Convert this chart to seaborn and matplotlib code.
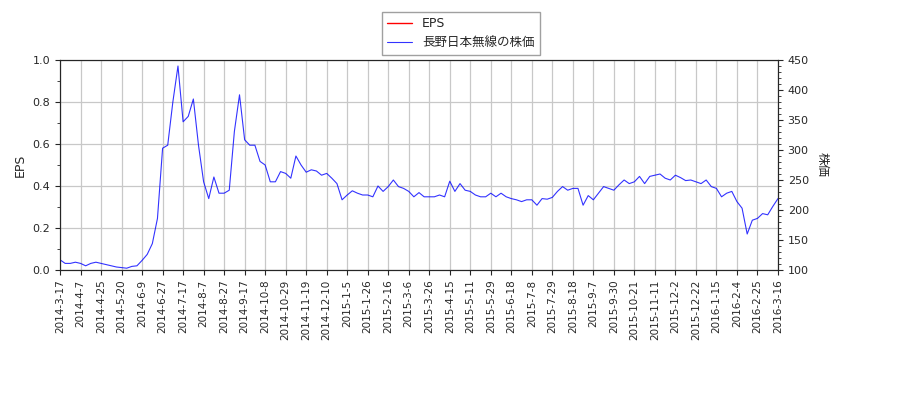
import numpy as np
import matplotlib
matplotlib.use("Agg")
import matplotlib.pyplot as plt
import seaborn as sns

sns.set_style("white")
plt.rcParams["font.family"] = ["DejaVu Sans", "Noto Sans CJK JP"]

# tick labels (one every 4 samples)
tick_labels = [
    "2014-3-17", "2014-4-7", "2014-4-25", "2014-5-20", "2014-6-9", "2014-6-27",
    "2014-7-17", "2014-8-7", "2014-8-27", "2014-9-17", "2014-10-8", "2014-10-29",
    "2014-11-19", "2014-12-10", "2015-1-5", "2015-1-26", "2015-2-16", "2015-3-6",
    "2015-3-26", "2015-4-15", "2015-5-11", "2015-5-29", "2015-6-18", "2015-7-8",
    "2015-7-29", "2015-8-18", "2015-9-7", "2015-9-30", "2015-10-21", "2015-11-11",
    "2015-12-2", "2015-12-22", "2016-1-15", "2016-2-4", "2016-2-25", "2016-3-16",
]

# stock price, sampled four times per tick interval
price = [
    117, 111, 111, 113,
    111, 107, 111, 113,
    111, 109, 107, 105,
    104, 103, 106, 107,
    116, 126, 144, 186,
    303, 308, 380, 440,
    347, 356, 385, 308,
    247, 219, 255, 228,
    228, 233, 331, 392,
    317, 308, 308, 281,
    275, 247, 247, 264,
    261, 253, 290, 275,
    263, 267, 265, 258,
    261, 253, 244, 217,
    225, 232, 228, 225,
    225, 222, 240, 231,
    239, 250, 239, 236,
    231, 222, 229, 222,
    222, 222, 225, 222,
    248, 231, 244, 233,
    231, 225, 222, 222,
    228, 222, 228, 222,
    219, 217, 214, 217,
    217, 208, 219, 218,
    221, 231, 239, 233,
    236, 236, 208, 224,
    217, 228, 239, 236,
    233, 242, 250, 244,
    247, 256, 244, 256,
    258, 260, 253, 250,
    258, 254, 249, 250,
    247, 244, 250, 239,
    236, 222, 228, 231,
    214, 203, 160, 183,
    186, 194, 192, 206,
    219,
]
eps = []  # no EPS values in this period

fig = plt.figure(figsize=(9, 4), dpi=100)
ax = fig.add_axes([0.0667, 0.325, 0.7977, 0.525])
ax2 = ax.twinx()

x = np.arange(len(price))
ax.plot([], [], color="red", lw=1, label="EPS")
sns.lineplot(x=x, y=price, ax=ax2, color="blue", lw=0.8, alpha=0.8, label="長野日本無線の株価")

ax.set_xlim(0, len(price) - 1)
ax.set_ylim(0, 1.0)
ax2.set_ylim(100, 450)
ax.set_yticks(np.arange(0, 1.01, 0.2))
ax.set_yticklabels([f"{v:.1f}" for v in np.arange(0, 1.01, 0.2)])
ax.set_yticks(np.arange(0, 1.01, 0.1), minor=True)
ax2.set_yticks(np.arange(100, 451, 50))
ax2.set_yticks(np.arange(100, 451, 10), minor=True)
ax.set_xticks(np.arange(0, len(price), 4))
ax.set_xticklabels(tick_labels, rotation=90, fontsize=8)
ax.tick_params(axis="both", which="both", direction="out", left=True, bottom=True, labelsize=8)
ax.tick_params(axis="x", labelsize=7.5)
ax2.tick_params(axis="y", which="both", right=True, labelsize=8)
ax.grid(True, color="#c8c8c8", lw=0.9)
ax.set_ylabel("EPS", fontsize=9)
ax2.set_ylabel("株価", fontsize=9, rotation=-90, labelpad=14)

h1, l1 = ax.get_legend_handles_labels()
h2, l2 = ax2.get_legend_handles_labels()
ax2.get_legend().remove()
fig.legend(h1 + h2, l1 + l2, loc="upper center", bbox_to_anchor=(0.512, 0.985),
           fontsize=9, frameon=True, fancybox=False, edgecolor="#888888")

fig.savefig("out.png", dpi=100)
